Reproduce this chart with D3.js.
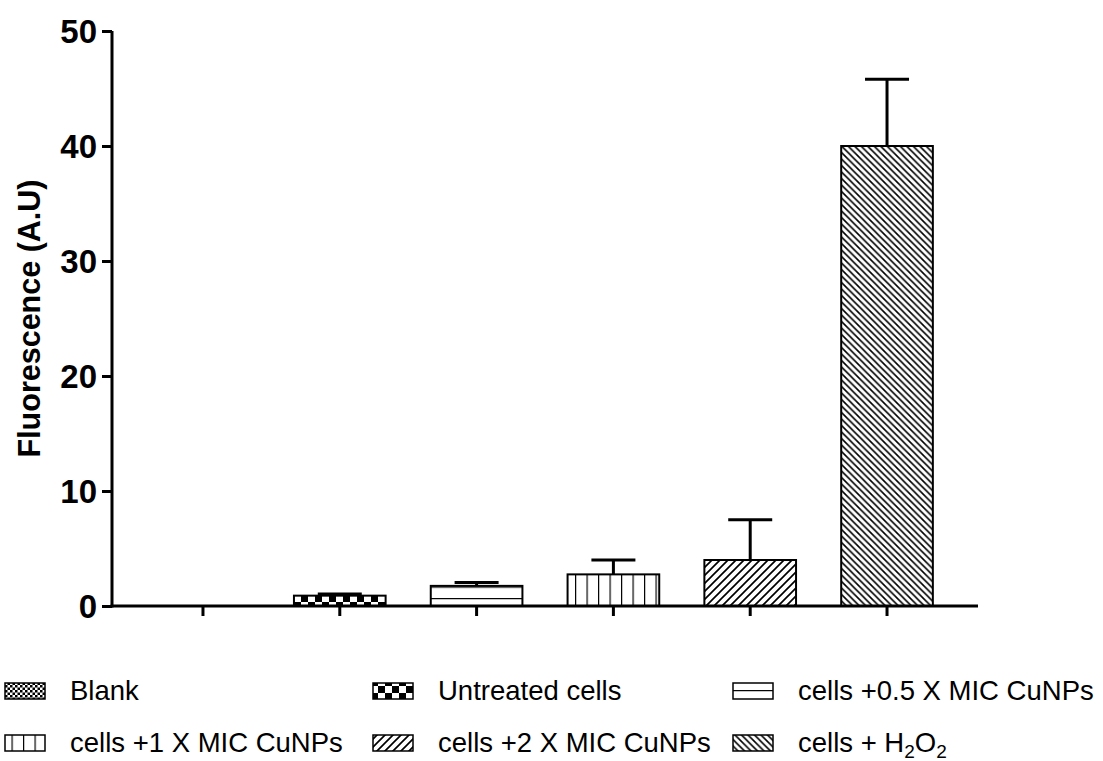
<!DOCTYPE html>
<html>
<head>
<meta charset="utf-8">
<script src="https://cdn.jsdelivr.net/npm/d3@7"></script>
<style>
  body { margin: 0; background: #fff; }
  svg { display: block; }
  text { font-family: Arial, "Liberation Sans", Helvetica, sans-serif; }
</style>
</head>
<body>
<div id="chart"></div>
<script>
// values
var categories = ["Blank", "Untreated cells", "cells +0.5 X MIC CuNPs",
                  "cells +1 X MIC CuNPs", "cells +2 X MIC CuNPs", "cells + H2O2"];
var means = [0, 0.9, 1.75, 2.75, 4.0, 40.0];
var errors = [0, 0.15, 0.3, 1.25, 3.5, 5.8];
var patterns = ["fineChecker", "bigChecker", "hLines", "vLines", "fwdDiag", "backDiag"];
var yTicks = [0, 10, 20, 30, 40, 50];
var yTitle = "Fluorescence (A.U)";

var width = 1103, height = 761;

var svg = d3.select("#chart").append("svg")
    .attr("width", width)
    .attr("height", height);

var defs = svg.append("defs");

// fill patterns, one for each group
function checker(id, s) {
  var p = defs.append("pattern").attr("id", id)
      .attr("patternUnits", "userSpaceOnUse")
      .attr("width", s * 2).attr("height", s * 2);
  p.append("rect").attr("width", s * 2).attr("height", s * 2).attr("fill", "#fff");
  p.append("rect").attr("x", 0).attr("y", 0).attr("width", s).attr("height", s).attr("fill", "#000");
  p.append("rect").attr("x", s).attr("y", s).attr("width", s).attr("height", s).attr("fill", "#000");
}
checker("fineChecker", 2.5);
checker("bigChecker", 7);

function lines(id, w, h, d, sw) {
  var p = defs.append("pattern").attr("id", id)
      .attr("patternUnits", "userSpaceOnUse")
      .attr("width", w).attr("height", h);
  p.append("rect").attr("width", w).attr("height", h).attr("fill", "#fff");
  p.append("path").attr("d", d).attr("stroke", "#000").attr("stroke-width", sw).attr("fill", "none");
}
lines("hLines", 10, 11.5, "M0,0H10", 2.4);
lines("vLines", 11.5, 10, "M0,0V10", 2.4);
lines("fwdDiag", 8, 8, "M-2,2L2,-2M0,8L8,0M6,10L10,6", 1.7);
lines("backDiag", 6.5, 6.5, "M-2,4.5L2,8.5M0,0L6.5,6.5M4.5,-2L8.5,2", 1.6);

var x = d3.scaleBand()
    .domain(categories)
    .range([112, 978])
    .paddingInner(0.33)
    .paddingOuter(0.33);

var y = d3.scaleLinear()
    .domain([0, 50])
    .range([606, 31]);

// bars
svg.append("g").selectAll("rect")
    .data(categories)
    .enter().append("rect")
    .attr("x", function (d) { return x(d); })
    .attr("y", function (d, i) { return y(means[i]); })
    .attr("width", x.bandwidth())
    .attr("height", function (d, i) { return y(0) - y(means[i]); })
    .attr("fill", function (d, i) { return "url(#" + patterns[i] + ")"; })
    .attr("stroke", "#000")
    .attr("stroke-width", 2);

// error bars (upper only)
var capHalf = 22;
var err = svg.append("g").attr("stroke", "#000").attr("stroke-width", 3);
categories.forEach(function (d, i) {
  if (errors[i] <= 0) return;
  var cx = x(d) + x.bandwidth() / 2;
  err.append("line")
      .attr("x1", cx).attr("x2", cx)
      .attr("y1", y(means[i])).attr("y2", y(means[i] + errors[i]));
  err.append("line")
      .attr("x1", cx - capHalf).attr("x2", cx + capHalf)
      .attr("y1", y(means[i] + errors[i])).attr("y2", y(means[i] + errors[i]));
});

// axes
var yAxis = svg.append("g")
    .attr("transform", "translate(112,0)")
    .call(d3.axisLeft(y).tickValues(yTicks).tickSize(10).tickSizeOuter(0).tickPadding(5));
yAxis.selectAll("path, line").attr("stroke", "#000").attr("stroke-width", 3);
yAxis.select(".domain").attr("d", "M0," + y(50) + "V" + (y(0) + 1.5));
yAxis.selectAll("text")
    .attr("font-size", 33)
    .attr("font-weight", "bold")
    .attr("fill", "#000")
    .attr("dy", "0.36em");

var xAxis = svg.append("g")
    .attr("transform", "translate(0,606)")
    .call(d3.axisBottom(x).tickSize(10).tickSizeOuter(0).tickFormat(""));
xAxis.selectAll("path, line").attr("stroke", "#000").attr("stroke-width", 3);
xAxis.select(".domain").attr("d", "M110.5,0H978");

svg.append("text")
    .attr("transform", "translate(40," + ((y(0) + y(50)) / 2) + ") rotate(-90)")
    .attr("text-anchor", "middle")
    .attr("font-size", 30.5)
    .attr("font-weight", "bold")
    .text(yTitle);

// legend, 3 columns x 2 rows
var legCols = [5, 373, 733];
var legRows = [683, 735];
var leg = svg.append("g");
categories.forEach(function (d, i) {
  var lx = legCols[i % 3], ly = legRows[Math.floor(i / 3)];
  leg.append("rect")
      .attr("x", lx).attr("y", ly)
      .attr("width", 40).attr("height", 16)
      .attr("fill", "url(#" + patterns[i] + ")")
      .attr("stroke", "#000")
      .attr("stroke-width", 1.5);
  var t = leg.append("text")
      .attr("x", lx + 65).attr("y", ly + 17)
      .attr("font-size", 27.5)
      .attr("fill", "#000");
  if (d.indexOf("H2O2") >= 0) {
    t.append("tspan").text(d.replace("H2O2", "H"));
    t.append("tspan").attr("font-size", 19).attr("dy", 6).text("2");
    t.append("tspan").attr("dy", -6).text("O");
    t.append("tspan").attr("font-size", 19).attr("dy", 6).text("2");
  } else {
    t.text(d);
  }
});
</script>
</body>
</html>
